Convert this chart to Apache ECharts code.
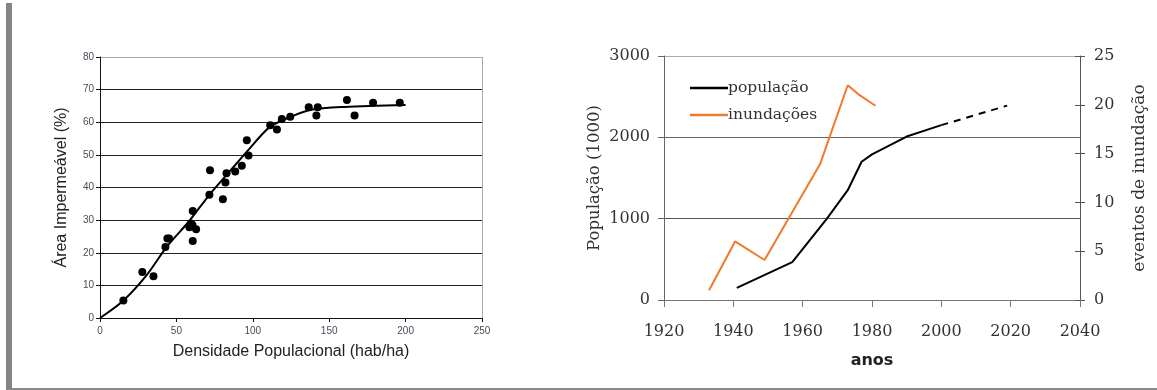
<!DOCTYPE html>
<html>
<head>
<meta charset="utf-8">
<script src="https://cdn.jsdelivr.net/npm/echarts@6/dist/echarts.min.js"></script>
<style>
html,body{margin:0;padding:0;background:#fff;}
#c{width:1157px;height:390px;}
</style>
</head>
<body>
<div id="c"></div>
<script>
// ---- Left chart: scatter + trend ----
const densidade = [15.3, 27.7, 35, 44.1, 45.2, 42.8, 58.5, 60.7, 60.7, 62.9, 60.5, 59.5, 72, 71.6, 80.4, 82.1, 82.8, 88.5, 92.8, 96.1, 97.2, 111.4, 115.8, 119, 124.5, 136.6, 142.5, 141.6, 161.6, 166.6, 178.7, 196.2];
const areaImperm = [5.4, 14.1, 12.8, 24.4, 24.4, 21.8, 27.8, 32.8, 23.6, 27.2, 28.5, 29, 45.3, 37.8, 36.4, 41.5, 44.4, 44.9, 46.7, 54.5, 49.8, 59.1, 57.8, 61, 61.7, 64.6, 64.6, 62.1, 66.8, 62.1, 66, 66];
const tendX = [0, 15, 30, 44, 58, 72, 85, 98, 111, 124, 138, 160, 200];
const tendY = [0, 5.2, 12.8, 22, 29.5, 38, 45, 52, 58.5, 61.5, 63.8, 64.7, 65.3];

// ---- Right chart: population & floods ----
const anosPop = [1941, 1957, 1967, 1973, 1977, 1980, 1990, 2000];
const populacao = [150, 465, 1000, 1350, 1700, 1790, 2010, 2150];
const anosProj = [2000, 2019];
const popProj = [2150, 2390];
const anosInund = [1933, 1940.5, 1949, 1965, 1973, 1976, 1981];
const inundacoes = [1, 6, 4.1, 13.9, 22, 21.1, 19.9];

const zip = (a, b) => a.map((v, i) => [v, b[i]]);
const plain = v => String(v);

const serif = 'DejaVu Serif';
const sans = 'Liberation Sans';

const chart = echarts.init(document.getElementById('c'), null, {renderer: 'canvas'});
chart.setOption({
  animation: false,
  backgroundColor: '#fff',
  graphic: [
    {type: 'rect', shape: {x: 6, y: 3, width: 6, height: 387}, style: {fill: '#858585'}},
    {type: 'rect', shape: {x: 12, y: 388, width: 1145, height: 2}, style: {fill: '#8a8a8a'}}
  ],
  legend: {
    left: 685, top: 75, orient: 'vertical', itemGap: 11, itemWidth: 38, itemHeight: 2.5,
    icon: 'rect',
    data: ['população', 'inundações'],
    textStyle: {fontFamily: serif, fontSize: 15.5, color: '#333', padding: [0,0,0,-5]}
  },
  grid: [
    {left: 100, top: 57, width: 382, height: 261, outerBoundsMode: 'none'},
    {left: 664, top: 56, width: 416, height: 244, outerBoundsMode: 'none'}
  ],
  xAxis: [
    {
      gridIndex: 0, type: 'value', min: 0, max: 250, interval: 50,
      name: 'Densidade Populacional (hab/ha)', nameLocation: 'middle', nameGap: 26,
      nameTextStyle: {fontFamily: sans, fontSize: 16, color: '#222'},
      axisLine: {show: true, onZero: false, lineStyle: {color: '#111', width: 1}},
      axisTick: {show: true, length: 4, lineStyle: {color: '#111'}},
      axisLabel: {fontFamily: sans, fontSize: 10, color: '#4a4a5a', margin: 8, formatter: plain},
      splitLine: {show: true, lineStyle: {color: ['transparent','transparent','transparent','transparent','transparent','#aaa'], width: 1}}
    },
    {
      gridIndex: 1, type: 'value', min: 1920, max: 2040, interval: 20,
      name: 'anos', nameLocation: 'middle', nameGap: 53,
      nameTextStyle: {fontFamily: 'DejaVu Sans', fontWeight: 'bold', fontSize: 16, color: '#222'},
      axisLine: {show: true, onZero: false, lineStyle: {color: '#777', width: 1}},
      axisTick: {show: true, length: 7, lineStyle: {color: '#777'}},
      axisLabel: {fontFamily: serif, fontSize: 16, color: '#333', margin: 24, formatter: plain},
      splitLine: {show: false}
    }
  ],
  yAxis: [
    {
      gridIndex: 0, type: 'value', min: 0, max: 80, interval: 10,
      name: 'Área Impermeável (%)', nameLocation: 'middle', nameGap: 30, nameRotate: 90,
      nameTextStyle: {fontFamily: sans, fontSize: 16, color: '#222'},
      axisLine: {show: true, onZero: false, lineStyle: {color: '#111', width: 1}},
      axisTick: {show: true, length: 4, lineStyle: {color: '#111'}},
      axisLabel: {fontFamily: sans, fontSize: 10, color: '#4a4a5a', margin: 6, formatter: plain},
      splitLine: {show: true, lineStyle: {color: ['transparent','#222','#222','#222','#222','#222','#222','#222','#aaa'], width: 1}}
    },
    {
      gridIndex: 1, type: 'value', min: 0, max: 3000, interval: 1000, position: 'left',
      name: 'População (1000)', nameLocation: 'middle', nameGap: 61, nameRotate: 90,
      nameTextStyle: {fontFamily: serif, fontSize: 16.5, color: '#333'},
      axisLine: {show: true, onZero: false, lineStyle: {color: '#666', width: 1}},
      axisTick: {show: true, length: 6, lineStyle: {color: '#666'}},
      axisLabel: {fontFamily: serif, fontSize: 16, color: '#333', margin: 14, formatter: plain},
      splitLine: {show: true, lineStyle: {color: ['transparent','#555','#666','#aaa'], width: 1.2}}
    },
    {
      gridIndex: 1, type: 'value', min: 0, max: 25, interval: 5, position: 'right',
      name: 'eventos de inundação', nameLocation: 'middle', nameGap: 51, nameRotate: 90,
      nameTextStyle: {fontFamily: serif, fontSize: 17, color: '#333'},
      axisLine: {show: true, onZero: false, lineStyle: {color: '#555', width: 1}},
      axisTick: {show: true, length: 5, lineStyle: {color: '#555'}},
      axisLabel: {fontFamily: serif, fontSize: 16, color: '#333', margin: 14, formatter: plain},
      splitLine: {show: false}
    },
    {
      gridIndex: 1, type: 'value', min: 0, max: 25, interval: 5, position: 'right',
      axisLine: {show: false},
      axisTick: {show: true, inside: true, length: 5, lineStyle: {color: '#555'}},
      axisLabel: {show: false},
      splitLine: {show: false}
    }
  ],
  series: [
    {
      type: 'scatter', xAxisIndex: 0, yAxisIndex: 0, symbolSize: 8,
      itemStyle: {color: '#000', opacity: 1}, data: zip(densidade, areaImperm), z: 3
    },
    {
      type: 'line', xAxisIndex: 0, yAxisIndex: 0, smooth: 0.3, symbol: 'none',
      lineStyle: {color: '#000', width: 2}, data: zip(tendX, tendY), z: 2
    },
    {
      name: 'população', type: 'line', xAxisIndex: 1, yAxisIndex: 1, symbol: 'none',
      lineStyle: {color: '#000', width: 2}, itemStyle: {color: '#000'}, data: zip(anosPop, populacao)
    },
    {
      name: 'população-proj', type: 'line', xAxisIndex: 1, yAxisIndex: 1, symbol: 'none',
      lineStyle: {color: '#000', width: 2, type: [7, 6]}, data: zip(anosProj, popProj)
    },
    {
      name: 'inundações', type: 'line', xAxisIndex: 1, yAxisIndex: 2, symbol: 'none',
      lineStyle: {color: '#f07a2c', width: 2}, itemStyle: {color: '#f07a2c'}, data: zip(anosInund, inundacoes)
    }
  ]
});
</script>
</body>
</html>
